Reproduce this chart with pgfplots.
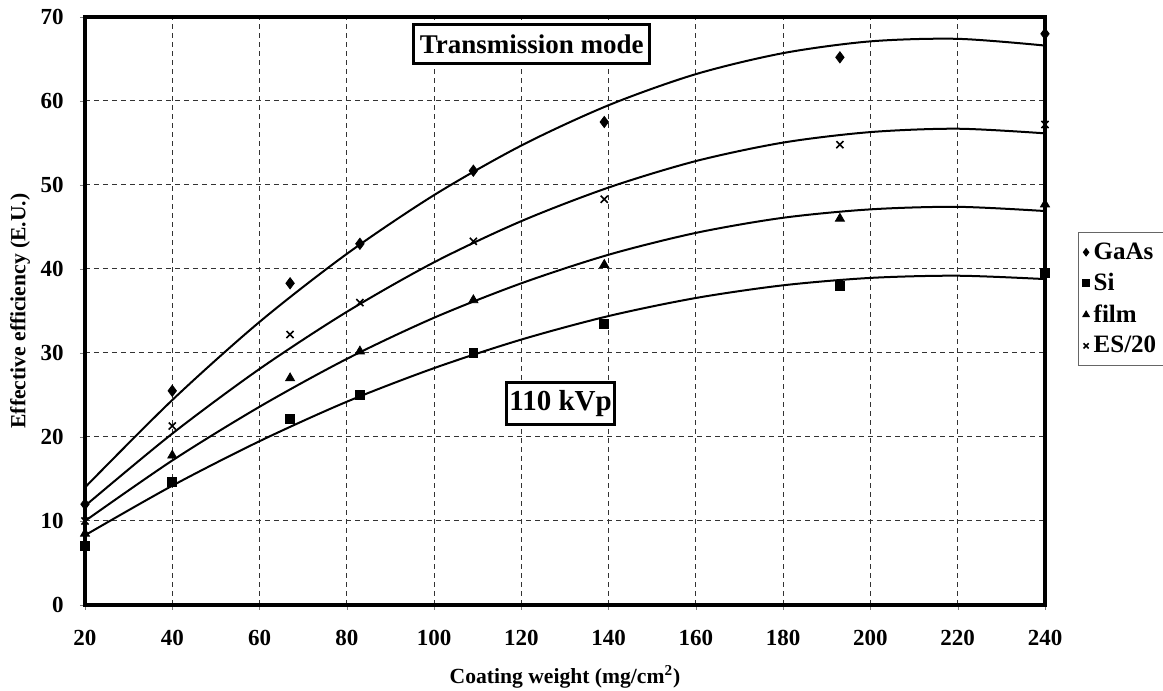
\documentclass[border=0pt]{standalone}
\usepackage{pgfplots}
\pgfplotsset{compat=1.18}
\usepackage{fontspec}
\setmainfont{Liberation Serif}
\begin{document}
\begin{tikzpicture}
\begin{axis}[
  name=ax,
  scale only axis,
  width=480pt, height=294pt,
  xmin=20, xmax=240, ymin=0, ymax=70,
  xtick={20,40,...,240}, ytick={0,10,...,70},
  tick align=outside, tick pos=left, major tick length=2.5pt,
  /pgf/number format/assume math mode=true,
  ticklabel style={font=\fontsize{11.5}{13}\selectfont\bfseries},
  xticklabel style={anchor=center, yshift=-14pt},
  yticklabel style={anchor=east, inner sep=0pt, xshift=-8pt},
  axis line style={line width=1.8pt},
  grid=major,
  major grid style={black!80, line width=0.5pt, dash pattern=on 2.5pt off 2pt},
  xlabel={Coating weight (mg/cm\textsuperscript{2})},
  ylabel={Effective efficiency (E.U.)},
  label style={font=\fontsize{10.8}{13}\selectfont\bfseries},
  xlabel style={at={(axis description cs:0.5,0)}, anchor=base, yshift=-39pt},
  ylabel style={at={(axis description cs:0,0.5)}, anchor=center, rotate=0, yshift=32.5pt},
  clip=false,
  legend style={at={(1,1)}, anchor=north west, xshift=16.5pt, yshift=-107.5pt,
    draw=black!60, line width=0.5pt, font=\fontsize{12.5}{14}\selectfont\bfseries,
    row sep=1.5pt, inner xsep=2pt, inner ysep=3pt},
  legend cell align=left,
  legend image code/.code={\draw[mark size=1.8pt] plot coordinates {(0.1cm,0cm)};},
]
% fitted curves
\addplot[black, line width=1pt, smooth, forget plot] coordinates {
 (20,14.0) (40,24.4) (60,33.7) (80,41.8) (100,48.8) (120,54.7) (140,59.5) (160,63.2) (180,65.7) (200,67.1) (220,67.4) (240,66.6)};
\addplot[black, line width=1pt, smooth, forget plot] coordinates {
 (20,11.8) (40,20.4) (60,28.1) (80,34.9) (100,40.8) (120,45.7) (140,49.7) (160,52.85) (180,55.05) (200,56.3) (220,56.7) (240,56.15)};
\addplot[black, line width=1pt, smooth, forget plot] coordinates {
 (20,10.0) (40,17.2) (60,23.6) (80,29.3) (100,34.2) (120,38.3) (140,41.7) (160,44.3) (180,46.1) (200,47.1) (220,47.4) (240,46.9)};
\addplot[black, line width=1pt, smooth, forget plot] coordinates {
 (20,8.3) (40,14.2) (60,19.5) (80,24.2) (100,28.2) (120,31.6) (140,34.4) (160,36.55) (180,38.06) (200,38.94) (220,39.2) (240,38.8)};
% data
\addplot[only marks, mark=diamond*, mark size=2.8pt, black] coordinates {
 (20,12) (40,25.5) (67,38.3) (83,43) (109,51.7) (139,57.5) (193,65.2) (240,68)};
\addlegendentry{GaAs}
\addplot[only marks, mark=square*, mark size=2.2pt, black] coordinates {
 (20,7) (40,14.7) (67,22.2) (83,25) (109,30) (139,33.5) (193,38) (240,39.5)};
\addlegendentry{Si}
\addplot[only marks, mark=triangle*, mark size=2.6pt, black] coordinates {
 (20,8.5) (40,17.8) (67,27) (83,30.2) (109,36.3) (139,40.5) (193,46) (240,47.7)};
\addlegendentry{film}
\addplot[only marks, mark=x, mark size=2.5pt, line width=0.8pt, black] coordinates {
 (20,10) (40,21.3) (67,32.2) (83,36) (109,43.3) (139,48.3) (193,54.8) (240,57.2)};
\addlegendentry{ES/20}
\node[draw, line width=1.5pt, fill=white, inner xsep=3pt, inner ysep=5pt,
  font=\fontsize{13.5}{15}\selectfont\bfseries] at (axis cs:122.4,66.8) {Transmission mode};
\node[draw, line width=1.5pt, fill=white, inner xsep=1.5pt, inner ysep=4pt,
  font=\fontsize{14.5}{16}\selectfont\bfseries] at (axis cs:129,24) {110 kVp};
\end{axis}
\pgfresetboundingbox
\path[use as bounding box] ([xshift=-42.5pt,yshift=-43pt]ax.south west) rectangle ([xshift=59pt,yshift=8.5pt]ax.north east);
\end{tikzpicture}
\end{document}
